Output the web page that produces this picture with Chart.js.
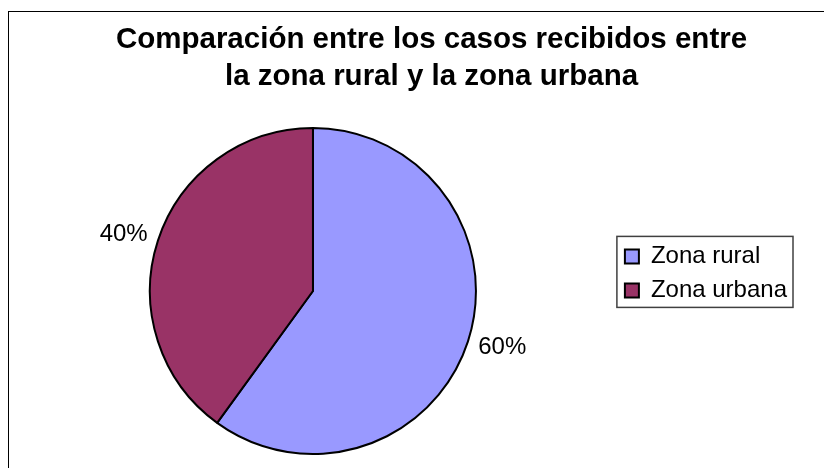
<!DOCTYPE html>
<html lang="es">
<head>
<meta charset="utf-8">
<title>Comparación entre los casos recibidos</title>
<script src="https://cdn.jsdelivr.net/npm/chart.js@4.4.1/dist/chart.umd.min.js"></script>
<style>
  html, body { margin: 0; padding: 0; background: #fff; overflow: hidden; }
  /* frame of the original chart, cropped at right and bottom */
  .chart-frame { position: absolute; left: 8px; top: 11px; width: 1000px; height: 1000px; border-left: 1px solid #000; border-top: 1px solid #000; }
  .chart-wrap { position: absolute; left: 0; top: 0; }
</style>
</head>
<body>
<div class="chart-frame"></div>
<div class="chart-wrap"><canvas id="casosChart" width="860" height="468"></canvas></div>
<script>
  // Datos
  const zonas = ['Zona rural', 'Zona urbana'];
  const casos = [60, 40];
  const colores = ['#9999FF', '#993366'];
  const titulo = ['Comparación entre los casos recibidos entre', 'la zona rural y la zona urbana'];

  const fuente = "'Liberation Sans', Arial, sans-serif";
  Chart.defaults.font.family = fuente;
  Chart.defaults.color = '#000';

  // percentage labels outside each slice
  const pctLabels = {
    id: 'pctLabels',
    afterDatasetsDraw(chart) {
      const ctx = chart.ctx;
      const meta = chart.getDatasetMeta(0);
      const values = chart.data.datasets[0].data;
      const total = values.reduce((a, b) => a + b, 0);
      ctx.save();
      ctx.font = '24px ' + fuente;
      ctx.fillStyle = '#000';
      ctx.textAlign = 'center';
      ctx.textBaseline = 'middle';
      meta.data.forEach((arc, i) => {
        const p = arc.getProps(['x', 'y', 'startAngle', 'endAngle', 'outerRadius'], true);
        const mid = (p.startAngle + p.endAngle) / 2;
        const text = Math.round(values[i] / total * 100) + '%';
        const halfW = ctx.measureText(text).width / 2;
        const gap = 12;
        ctx.fillText(text,
          p.x + Math.cos(mid) * (p.outerRadius + gap + halfW),
          p.y + Math.sin(mid) * (p.outerRadius + gap + 9));
      });
      ctx.restore();
    }
  };

  // box around the legend
  const legendFrame = {
    id: 'legendFrame',
    afterDraw(chart) {
      const boxes = chart.legend && chart.legend.legendHitBoxes;
      if (!boxes || !boxes.length) return;
      const left = Math.min(...boxes.map(b => b.left)) - 8;
      const right = Math.max(...boxes.map(b => b.left + b.width)) + 6;
      const top = Math.min(...boxes.map(b => b.top)) - 8;
      const bottom = Math.max(...boxes.map(b => b.top + b.height)) + 5;
      const ctx = chart.ctx;
      ctx.save();
      ctx.strokeStyle = '#404040';
      ctx.lineWidth = 1.5;
      ctx.strokeRect(left, top, right - left, bottom - top);
      ctx.restore();
    }
  };

  new Chart(document.getElementById('casosChart'), {
    type: 'pie',
    data: {
      labels: zonas,
      datasets: [{
        data: casos,
        backgroundColor: colores,
        borderColor: '#000',
        borderWidth: 2
      }]
    },
    options: {
      responsive: false,
      animation: false,
      layout: { padding: { top: 10, bottom: 13, left: 11, right: 8 } },
      plugins: {
        title: {
          display: true,
          text: titulo,
          color: '#000',
          font: { size: 29.5, weight: 'bold', lineHeight: '37px' },
          padding: { top: 11, bottom: 32 }
        },
        // empty spacer at the right so the title stays centred on the full chart
        subtitle: {
          display: true,
          position: 'right',
          text: '',
          font: { size: 10, lineHeight: 1 },
          padding: { top: 45, bottom: 0 }
        },
        legend: {
          position: 'right',
          align: 'start',
          title: { display: true, text: '', padding: { top: 0, bottom: 210 } },
          labels: {
            boxWidth: 14,
            boxHeight: 14,
            padding: 10,
            color: '#000',
            font: { size: 24 }
          }
        },
        tooltip: { enabled: false }
      }
    },
    plugins: [pctLabels, legendFrame]
  });
</script>
</body>
</html>
